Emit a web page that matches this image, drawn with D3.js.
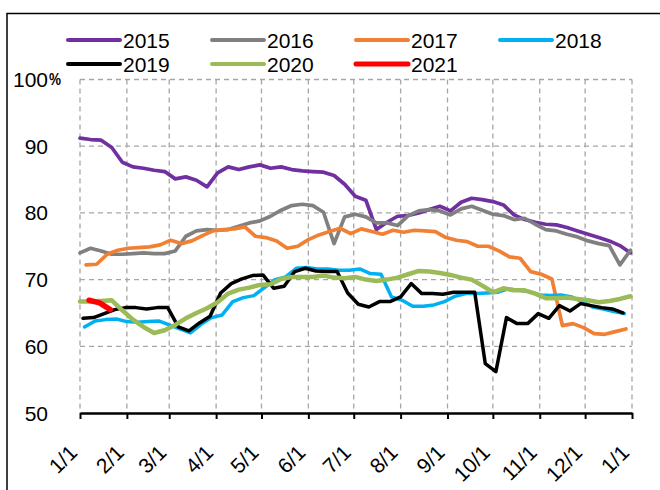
<!DOCTYPE html>
<html>
<head>
<meta charset="utf-8">
<script src="https://cdn.jsdelivr.net/npm/d3@7"></script>
<style>
  body { margin: 0; background: #fff; }
  text { font-family: "Liberation Sans", Arial, sans-serif; }
</style>
</head>
<body>
<div id="chart-area"></div>
<script>
// weekly readings, in %, first reading at day `start` of the year
var years = ["2015", "2016", "2017", "2018", "2019", "2020", "2021"]
var colors = ["#7030A0", "#808080", "#F08033", "#00B0F0", "#000000", "#9BBB59", "#FF0000"]
var starts = [0, 0, 4, 3, 2, 0, 6]

var v2015 = [91.2, 91.0, 90.9, 89.8, 87.6, 86.9, 86.7, 86.4, 86.2, 85.1, 85.4, 84.9, 83.9, 86.0,
    86.9, 86.5, 86.9, 87.2, 86.7, 86.9, 86.5, 86.3, 86.2, 86.1, 85.6, 84.3, 82.5, 81.9, 77.5,
    78.6, 79.5, 79.6, 80.0, 80.5, 81.0, 80.3, 81.6, 82.2, 82.0, 81.7, 81.2, 79.7, 79.0, 78.6,
    78.3, 78.2, 77.8, 77.3, 76.8, 76.3, 75.8, 75.1, 74.0]
var v2016 = [74.0, 74.7, 74.3, 73.8, 73.8, 73.9, 74.0, 73.9, 73.9, 74.3, 76.5, 77.3, 77.5, 77.4,
    77.5, 78.0, 78.5, 78.8, 79.5, 80.4, 81.1, 81.3, 81.1, 80.1, 75.4, 79.4, 79.8, 79.4, 78.5,
    78.5, 78.1, 79.6, 80.3, 80.5, 80.3, 79.7, 80.6, 81.0, 80.4, 79.8, 79.6, 79.0, 79.2, 78.3,
    77.5, 77.3, 76.8, 76.4, 75.8, 75.4, 75.1, 72.2, 74.4]
var v2017 = [72.2, 72.3, 73.8, 74.4, 74.7, 74.8, 74.9, 75.2, 75.9, 75.4, 75.8, 76.6, 77.3, 77.5,
    77.6, 77.9, 76.5, 76.3, 75.8, 74.7, 75.0, 76.0, 76.7, 77.2, 77.7, 76.9, 77.6, 77.2, 76.8,
    77.4, 77.1, 77.4, 77.3, 77.2, 76.3, 75.9, 75.7, 75.0, 75.0, 74.3, 73.4, 73.2, 71.2, 70.8,
    70.1, 63.1, 63.4, 62.8, 61.9, 61.8, 62.2, 62.6]
var v2018 = [62.9, 63.8, 64.0, 64.1, 63.7, 63.6, 63.7, 63.8, 63.2, 62.6, 62.0, 63.3, 64.3, 64.7,
    66.7, 67.3, 67.6, 68.8, 70.0, 70.4, 71.7, 71.8, 71.6, 71.6, 71.4, 71.4, 71.6, 70.9, 70.8,
    67.4, 66.9, 66.0, 66.0, 66.2, 66.7, 67.5, 67.9, 67.9, 68.0, 68.1, 68.6, 68.4, 68.2, 67.7,
    67.6, 67.7, 67.4, 66.7, 65.9, 65.6, 65.2, 64.9]
var v2019 = [64.2, 64.3, 64.9, 65.5, 65.8, 65.8, 65.6, 65.8, 65.8, 62.9, 62.3, 63.5, 64.5, 68.0,
    69.4, 70.1, 70.6, 70.7, 68.7, 69.0, 71.2, 71.7, 71.3, 71.2, 71.2, 68.0, 66.3, 65.9, 66.7,
    66.7, 67.4, 69.4, 67.9, 67.9, 67.8, 68.1, 68.1, 68.1, 57.4, 56.2, 64.3, 63.4, 63.4, 64.9,
    64.2, 66.1, 65.3, 66.4, 66.1, 65.8, 65.6, 65.0]
var v2020 = [66.7, 66.7, 66.8, 66.9, 65.4, 64.0, 62.9, 62.0, 62.4, 63.2, 64.2, 65.0, 65.7, 66.6,
    67.9, 68.5, 68.8, 69.2, 69.3, 70.1, 70.4, 70.4, 70.4, 70.6, 70.3, 70.2, 70.4, 70.0, 69.8,
    70.0, 70.3, 70.8, 71.3, 71.2, 71.0, 70.7, 70.3, 70.0, 69.1, 68.1, 68.7, 68.4, 68.4, 67.9,
    67.2, 67.2, 67.3, 67.1, 66.9, 66.6, 66.8, 67.1, 67.5]
var v2021 = [66.9, 66.5, 65.5]
var values = [v2015, v2016, v2017, v2018, v2019, v2020, v2021]
var widths = [3.7, 3.7, 3.7, 3.5, 3.5, 4.5, 5.5]

var yTicks = [50, 60, 70, 80, 90, 100]
var monthLabels = ["1/1", "2/1", "3/1", "4/1", "5/1", "6/1", "7/1", "8/1", "9/1", "10/1", "11/1", "12/1", "1/1"]

var width = 660, height = 490
var svg = d3.select("#chart-area").append("svg")
    .attr("width", width)
    .attr("height", height)

// outer frame (runs off the right and bottom of the picture)
svg.append("rect")
    .attr("x", 7).attr("y", 13.5)
    .attr("width", 700).attr("height", 600)
    .attr("fill", "none")
    .attr("stroke", "#000")
    .attr("stroke-width", 1.5)

var t0 = Date.UTC(2015, 0, 1), t1 = Date.UTC(2016, 0, 1)
var x = d3.scaleUtc().domain([t0, t1]).range([80, 632])
var y = d3.scaleLinear().domain([50, 100]).range([413, 79.5])
var months = d3.utcMonth.range(new Date(t0), new Date(t1 + 1))

// grid
var grid = svg.append("g")
    .attr("stroke", "#A6A6A6")
    .attr("stroke-width", 1.3)
    .attr("stroke-dasharray", "5,4")
grid.selectAll(".hg").data(yTicks.slice(1)).enter().append("line")
    .attr("x1", x.range()[0]).attr("x2", x.range()[1])
    .attr("y1", d => y(d)).attr("y2", d => y(d))
grid.selectAll(".vg").data(months).enter().append("line")
    .attr("x1", d => x(d)).attr("x2", d => x(d))
    .attr("y1", y(100)).attr("y2", y(50))

// y labels
svg.append("g").selectAll("text")
    .data(yTicks).enter().append("text")
    .attr("x", 48)
    .attr("y", d => y(d))
    .attr("dy", "0.36em")
    .attr("text-anchor", "end")
    .attr("font-size", 21)
    .text(d => d)
svg.append("text")
    .attr("x", 49)
    .attr("y", y(100))
    .attr("dy", "0.36em")
    .attr("font-size", 16)
    .attr("font-weight", "bold")
    .attr("textLength", 12)
    .attr("lengthAdjust", "spacingAndGlyphs")
    .text("%")

// lines
var line = d3.line()
    .x(d => x(d.t))
    .y(d => y(d.v))

years.forEach(function (yr, k) {
    var pts = values[k].map(function (v, i) {
        return { t: t0 + (starts[k] + 7 * i) * 864e5, v: v }
    })
    svg.append("path")
        .datum(pts)
        .attr("d", line)
        .attr("fill", "none")
        .attr("stroke", colors[k])
        .attr("stroke-width", widths[k])
        .attr("stroke-linejoin", "round")
        .attr("stroke-linecap", "round")
})

// x axis
var xAxis = svg.append("g")
    .attr("transform", "translate(0," + y(50) + ")")
    .call(d3.axisBottom(x)
        .tickValues(months)
        .tickSize(6)
        .tickSizeOuter(0)
        .tickFormat((d, i) => monthLabels[i]))
xAxis.select(".domain").attr("stroke-width", 2.5)
xAxis.selectAll(".tick line").attr("stroke-width", 2)
xAxis.selectAll(".tick text")
    .attr("x", 0).attr("y", 0).attr("dy", 0)
    .attr("transform", "translate(-2,41) rotate(-45)")
    .attr("text-anchor", "end")
    .attr("font-size", 21)
    .attr("fill", "#000")
    .style("font-family", "'Liberation Sans', Arial, sans-serif")

// legend
var legend = svg.append("g")
years.forEach(function (yr, k) {
    var lx = 68 + (k % 4) * 144,
        ly = 40 + Math.floor(k / 4) * 24
    legend.append("line")
        .attr("x1", lx).attr("x2", lx + 52)
        .attr("y1", ly).attr("y2", ly)
        .attr("stroke", colors[k])
        .attr("stroke-width", yr == "2021" ? 5 : 4)
        .attr("stroke-linecap", "round")
    legend.append("text")
        .attr("x", lx + 55)
        .attr("y", ly)
        .attr("dy", "0.36em")
        .attr("font-size", 21)
        .text(yr)
})
</script>
</body>
</html>
